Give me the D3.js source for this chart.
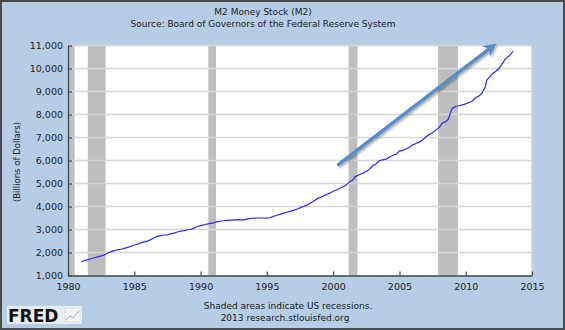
<!DOCTYPE html>
<html><head><meta charset="utf-8">
<script src="https://cdn.jsdelivr.net/npm/d3@7"></script>
<style>
body{margin:0;background:#fff}
svg{display:block}
text{font-family:"DejaVu Sans",Verdana,sans-serif}
</style>
</head><body>
<svg id="chart" width="565" height="330"></svg>
<script>
// ---- data ----
const months = [
"1981-01","1981-04","1981-07","1981-10",
"1982-01","1982-04","1982-07","1982-10",
"1983-01","1983-04","1983-07","1983-10",
"1984-01","1984-04","1984-07","1984-10",
"1985-01","1985-04","1985-07","1985-10",
"1986-01","1986-04","1986-07","1986-10",
"1987-01","1987-04","1987-07","1987-10",
"1988-01","1988-04","1988-07","1988-10",
"1989-01","1989-04","1989-07","1989-10",
"1990-01","1990-04","1990-07","1990-10",
"1991-01","1991-04","1991-07","1991-10",
"1992-01","1992-04","1992-07","1992-10",
"1993-01","1993-04","1993-07","1993-10",
"1994-01","1994-04","1994-07","1994-10",
"1995-01","1995-04","1995-07","1995-10",
"1996-01","1996-04","1996-07","1996-10",
"1997-01","1997-04","1997-07","1997-10",
"1998-01","1998-04","1998-07","1998-10",
"1999-01","1999-04","1999-07","1999-10",
"2000-01","2000-04","2000-07","2000-10",
"2001-01","2001-04","2001-07","2001-09","2001-10",
"2002-01","2002-04","2002-07","2002-10",
"2003-01","2003-04","2003-07","2003-10",
"2004-01","2004-04","2004-07","2004-10",
"2005-01","2005-04","2005-07","2005-10",
"2006-01","2006-04","2006-07","2006-10",
"2007-01","2007-04","2007-07","2007-10",
"2008-01","2008-04","2008-07","2008-09","2008-10","2008-12",
"2009-01","2009-04","2009-07","2009-10",
"2010-01","2010-04","2010-07","2010-10",
"2011-01","2011-04","2011-07","2011-08","2011-10",
"2012-01","2012-04","2012-07","2012-10",
"2013-01","2013-04","2013-07","2013-08"
];
const m2Values = [
1600,1650,1690,1730,
1770,1810,1850,1895,
1980,2040,2080,2120,
2140,2180,2220,2270,
2325,2360,2420,2460,
2495,2560,2640,2700,
2735,2760,2770,2810,
2840,2890,2930,2950,
2990,3000,3060,3130,
3165,3200,3240,3270,
3290,3340,3360,3380,
3400,3410,3410,3430,
3420,3420,3450,3480,
3490,3500,3500,3500,
3495,3510,3570,3620,
3660,3710,3750,3790,
3830,3880,3940,4000,
4050,4140,4220,4320,
4390,4450,4520,4580,
4660,4720,4790,4860,
4940,5080,5160,5300,5320,
5390,5450,5520,5620,
5780,5860,6000,6030,
6060,6150,6220,6270,
6410,6440,6500,6580,
6680,6740,6800,6890,
7030,7130,7210,7320,
7440,7630,7690,7780,7900,8190,
8260,8360,8380,8420,
8460,8520,8590,8740,
8800,8950,9230,9500,9590,
9760,9870,10000,10200,
10430,10530,10700,10760
];
const recessionStarts = ["1980-02","1981-07","1990-08","2001-03","2007-12"];
const recessionEnds   = ["1980-07","1982-11","1991-03","2001-11","2009-06"];
const yTickValues = [1000,2000,3000,4000,5000,6000,7000,8000,9000,10000,11000];
const xTickYears = [1980,1985,1990,1995,2000,2005,2010,2015];
const arrowDates = ["2000-06","2012-01"];
const arrowValues = [5830,10950];

const titleText = "M2 Money Stock (M2)";
const subtitleText = "Source: Board of Governors of the Federal Reserve System";
const yLabelText = "(Billions of Dollars)";
const noteText = "Shaded areas indicate US recessions.";
const creditText = "2013 research.stlouisfed.org";

// ---- drawing ----
const parse = d3.timeParse("%Y-%m");
const svg = d3.select("#chart");
const W = 565, H = 330;
const L = 68, R = 532, T = 45.5, B = 275.5;

svg.append("rect").attr("x",1).attr("y",1).attr("width",W-2).attr("height",H-2)
  .attr("fill","#b5cde5").attr("stroke","#4a4a4a").attr("stroke-width",2);

const x = d3.scaleTime().domain([new Date(1980,0,1), new Date(2015,0,1)]).range([L,R]);
const y = d3.scaleLinear().domain([1000,11000]).range([B,T]);

// plot background
svg.append("rect").attr("x",L).attr("y",T).attr("width",R-L).attr("height",B-T)
  .attr("fill","#ffffff");

// recession shading
svg.append("g").selectAll("rect").data(recessionStarts.map((s,i)=>({s:parse(s),e:parse(recessionEnds[i])})))
  .join("rect")
  .attr("x",d=>x(d.s)).attr("width",d=>x(d.e)-x(d.s))
  .attr("y",T).attr("height",B-T).attr("fill","#bebebe");

// gridlines
svg.append("g").selectAll("line").data(yTickValues.slice(1))
  .join("line")
  .attr("x1",L).attr("x2",R).attr("y1",d=>y(d)).attr("y2",d=>y(d))
  .attr("stroke","#d6d6d6").attr("stroke-width",1.6);

// right border of plot
svg.append("line").attr("x1",R).attr("x2",R).attr("y1",T).attr("y2",B)
  .attr("stroke","#cfcfcf").attr("stroke-width",1.5);

// series line
const data = months.map((m,i)=>({d:parse(m), v:m2Values[i]}));
svg.append("path").datum(data)
  .attr("fill","none").attr("stroke","#2929f5").attr("stroke-width",1.2)
  .attr("d", d3.line().x(d=>x(d.d)).y(d=>y(d.v)));

// arrow annotation
const defs = svg.append("defs");
const f = defs.append("filter").attr("id","sh").attr("x","-20%").attr("y","-20%").attr("width","140%").attr("height","140%");
f.append("feDropShadow").attr("dx",1.5).attr("dy",1.5).attr("stdDeviation",1.2)
  .attr("flood-color","#000").attr("flood-opacity",0.35);
defs.append("marker").attr("id","ah").attr("viewBox","0 0 10 10")
  .attr("refX",6).attr("refY",5).attr("markerWidth",3.6).attr("markerHeight",3.6)
  .attr("orient","auto")
  .append("path").attr("d","M0,0 L10,5 L0,10 L3,5 Z").attr("fill","#5a8dc6");
const ap = arrowDates.map((d,i)=>[x(parse(d)), y(arrowValues[i])]);
svg.append("line")
  .attr("x1",ap[0][0]).attr("y1",ap[0][1]).attr("x2",ap[1][0]).attr("y2",ap[1][1])
  .attr("stroke","#5a8dc6").attr("stroke-width",3.6).attr("stroke-linecap","round")
  .attr("marker-end","url(#ah)").attr("filter","url(#sh)");

// axes
const yAxis = d3.axisLeft(y).tickValues(yTickValues).tickFormat(d3.format(","))
  .tickSizeInner(-4).tickSizeOuter(0).tickPadding(5);
const gy = svg.append("g").attr("transform",`translate(${L},0)`).call(yAxis);
const xAxis = d3.axisBottom(x).tickValues(xTickYears.map(yr=>new Date(yr,0,1)))
  .tickFormat(d3.timeFormat("%Y")).tickSizeInner(-4).tickSizeOuter(0).tickPadding(8);
const gx = svg.append("g").attr("transform",`translate(0,${B})`).call(xAxis);
[gx,gy].forEach(g=>{
  g.select(".domain").attr("stroke","#444").attr("stroke-width",1.3);
  g.selectAll(".tick line").attr("stroke","#444").attr("stroke-width",1.2);
  g.selectAll(".tick text").attr("fill","#1e1e1e").style("font-size","9.5px")
   .style("font-family",'"DejaVu Sans",Verdana,sans-serif');
});

// titles
svg.append("text").attr("x",263).attr("y",15).attr("text-anchor","middle")
  .style("font-size","9px").attr("fill","#222").text(titleText);
svg.append("text").attr("x",263).attr("y",27).attr("text-anchor","middle")
  .style("font-size","9px").attr("fill","#222").text(subtitleText);
svg.append("text").attr("transform","translate(20,162) rotate(-90)").attr("text-anchor","middle")
  .style("font-size","8.5px").attr("fill","#222").text(yLabelText);
svg.append("text").attr("x",288).attr("y",309).attr("text-anchor","middle")
  .style("font-size","9px").attr("fill","#222").text(noteText);
svg.append("text").attr("x",285).attr("y",321).attr("text-anchor","middle")
  .style("font-size","9px").attr("fill","#222").text(creditText);

// FRED logo
const logo = svg.append("g");
logo.append("rect").attr("x",7).attr("y",306).attr("width",75).attr("height",18).attr("fill","#e9eef3");
logo.append("text").attr("x",8).attr("y",322).style("font-size","17px").style("font-weight","bold")
  .attr("fill","#111").text("FRED");
logo.append("rect").attr("x",65).attr("y",308).attr("width",15).attr("height",14).attr("fill","#f4f4f4").attr("stroke","#ccc").attr("stroke-width",0.5);
logo.append("path").attr("d","M66,320 L70,316 L73,318 L79,311").attr("fill","none").attr("stroke","#9ab").attr("stroke-width",1);
</script>
</body></html>
